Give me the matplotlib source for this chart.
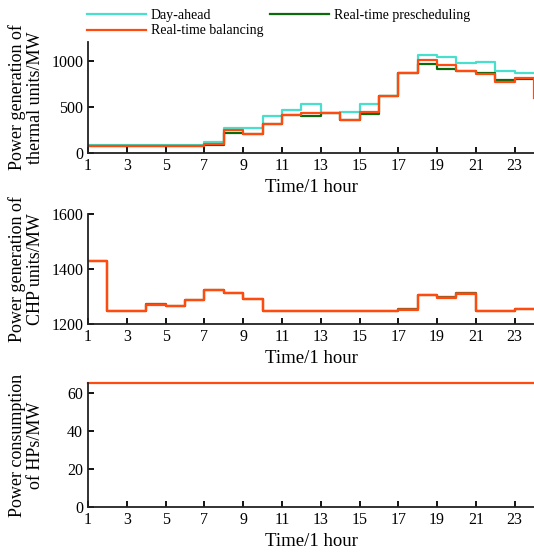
import numpy as np
import matplotlib.pyplot as plt

hours = np.arange(1, 25)

# thermal units (MW)
thermal_day_ahead = [88, 88, 88, 88, 88, 88, 118, 268, 275, 399, 461, 535,
                     435, 443, 528, 612, 863, 1060, 1033, 978, 989, 889, 860, 860]
thermal_presched = [78, 78, 78, 78, 78, 78, 92, 221, 210, 310, 406, 399,
                    435, 362, 421, 612, 863, 967, 904, 889, 867, 786, 804, 804]
thermal_balancing = [78, 78, 78, 78, 78, 78, 96, 251, 207, 310, 406, 428,
                     428, 362, 443, 612, 863, 1004, 952, 889, 849, 767, 815, 600]

# CHP units (MW)
chp_day_ahead = [1428, 1249, 1249, 1272, 1267, 1289, 1322, 1313, 1290, 1249, 1249, 1249,
                 1249, 1249, 1249, 1249, 1253, 1304, 1297, 1311, 1249, 1249, 1256, 1256]
chp_presched = [1428, 1249, 1249, 1272, 1267, 1289, 1322, 1313, 1290, 1249, 1249, 1249,
                1249, 1249, 1249, 1249, 1253, 1304, 1297, 1311, 1249, 1249, 1256, 1256]
chp_balancing = [1428, 1249, 1249, 1270, 1265, 1287, 1322, 1313, 1290, 1249, 1249, 1249,
                 1249, 1249, 1249, 1249, 1251, 1304, 1295, 1309, 1249, 1249, 1254, 1254]

# heat pumps (MW)
hp_balancing = [65] * 24

xticks = [1, 3, 5, 7, 9, 11, 13, 15, 17, 19, 21, 23]

c_da = '#48e0cc'
c_pre = '#0b6a0b'
c_bal = '#ff4a10'

plt.rcParams['font.family'] = ['Liberation Serif', 'DejaVu Serif']
plt.rcParams['font.size'] = 11.5

fig = plt.figure(figsize=(5.34, 5.52), dpi=100)
ax1 = fig.add_axes([0.165, 0.7228, 0.835, 0.2011])
ax2 = fig.add_axes([0.165, 0.413, 0.835, 0.1993])
ax3 = fig.add_axes([0.165, 0.0815, 0.835, 0.2246])

l_da, = ax1.step(hours, thermal_day_ahead, where='post', color=c_da, lw=1.6)
l_pre, = ax1.step(hours, thermal_presched, where='post', color=c_pre, lw=1.6)
l_bal, = ax1.step(hours, thermal_balancing, where='post', color=c_bal, lw=1.6)
ax1.set_ylim(0, 1200)
ax1.set_yticks([0, 500, 1000])

ax2.step(hours, chp_day_ahead, where='post', color='#b0b080', lw=1.6)
ax2.step(hours, chp_presched, where='post', color='#a05a20', lw=1.6)
ax2.step(hours, chp_balancing, where='post', color=c_bal, lw=1.6)
ax2.set_ylim(1200, 1600)
ax2.set_yticks([1200, 1400, 1600])

ax3.step(hours, hp_balancing, where='post', color=c_bal, lw=1.6, clip_on=False)
ax3.set_ylim(0, 65)
ax3.set_yticks([0, 20, 40, 60])

labels = ['Power generation of\nthermal units/MW',
          'Power generation of\nCHP units/MW',
          'Power consumption\nof HPs/MW']
for ax, lab in zip([ax1, ax2, ax3], labels):
    ax.set_xlim(1, 24)
    ax.set_xticks(xticks)
    ax.spines['top'].set_visible(False)
    ax.spines['right'].set_visible(False)
    for s in ['left', 'bottom']:
        ax.spines[s].set_linewidth(1.3)
        ax.spines[s].set_color('#222222')
    ax.tick_params(direction='in', length=4, width=1.3, pad=3.5)
    ax.set_xlabel('Time/1 hour', labelpad=4, fontsize=13.5)
    ax.set_ylabel(lab, linespacing=1.05, fontsize=13)
    ax.yaxis.set_label_coords(-0.1, 0.5)

fig.legend([l_da, l_bal, l_pre], ['Day-ahead', 'Real-time balancing', 'Real-time prescheduling'],
           ncol=2, loc='upper left', bbox_to_anchor=(80 / 534, 0.997), frameon=False,
           borderpad=0, handlelength=4.25, handletextpad=0.36, columnspacing=0.5,
           labelspacing=0.2, fontsize=10)

fig.savefig('out.png', dpi=100)
